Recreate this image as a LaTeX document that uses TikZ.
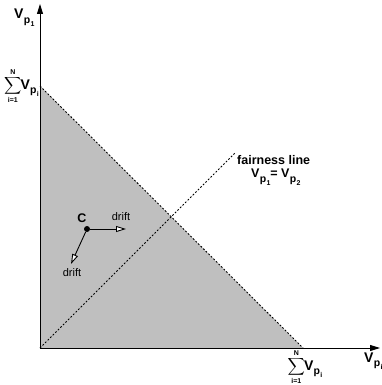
\documentclass[tikz,border=0pt]{standalone}
\usepackage{amsmath}
\usepackage{fontspec}
\setmainfont{Liberation Sans}
\usetikzlibrary{arrows.meta}
\newcommand\Vsub[1]{V\kern0.3pt\raisebox{-4.5pt}{\fontsize{10.5}{10}\selectfont p\kern0.3pt\raisebox{-3pt}{\fontsize{7}{7}\selectfont #1}}}
\newcommand\SumV{{\fontsize{12.5}{13}\selectfont$\displaystyle\sum_{\mbox{\fontsize{7}{7}\selectfont\bfseries i=1}}^{\mbox{\fontsize{7}{7}\selectfont\bfseries N}}$}\kern-1pt\Vsub{i}}
\begin{document}
\begin{tikzpicture}[x=1pt,y=-1pt,
  axis/.style={line width=0.9pt,-{Triangle[length=10pt,width=6pt]}},
  dline/.style={line width=0.9pt,dash pattern=on 1.8pt off 1.8pt},
  driftarrow/.style={line width=0.9pt,-{Triangle[open,length=10pt,width=6pt,fill=white]}},
  lbl/.style={font=\bfseries\fontsize{12.5}{13}\selectfont,inner sep=0pt},
  big/.style={font=\bfseries\fontsize{14}{15}\selectfont,inner sep=0pt},
  dlbl/.style={font=\fontsize{11}{12}\selectfont,inner sep=0pt}]
\useasboundingbox (0,0) rectangle (382,385);
\coordinate (O) at (40,348);
\coordinate (Ytop) at (40,86);
\coordinate (Xend) at (303,348);
\coordinate (F) at (235,153);
\fill[gray!50] (O) -- (Ytop) -- (Xend) -- cycle;
\draw[dline] (Ytop) -- (Xend);
\draw[dline] (O) -- (F);
\draw[axis] (O) -- (40,4) coordinate (yax);
\draw[axis] (O) -- (380,348) coordinate (xax);
% labels
\node[big,anchor=north west] (vy) at (14,9) {\Vsub{1}};
\node[big,anchor=east] (sy) at (39,86) {\SumV};
\node[big] (sx) at (305,367) {\SumV};
\node[big,anchor=west] (vx) at (364,361) {\Vsub{i}};
\node[lbl,anchor=west] (fl) at (237,160) {fairness line};
\node[lbl,anchor=west] (fe) at (251,177) {\Vsub{1}= \Vsub{2}};
% point C
\node[circle,fill=black,inner sep=0pt,minimum size=6pt] (C) at (87,229) {};
\node[lbl] (Cl) at (82,218) {C};
\coordinate (d1) at (126,229);
\coordinate (d2) at (71,264);
\draw[driftarrow] (C) -- (d1);
\draw[driftarrow] (C) -- (d2);
\node[dlbl] (dl1) at (121,217) {drift};
\node[dlbl] (dl2) at (72,273) {drift};
\end{tikzpicture}
\end{document}
